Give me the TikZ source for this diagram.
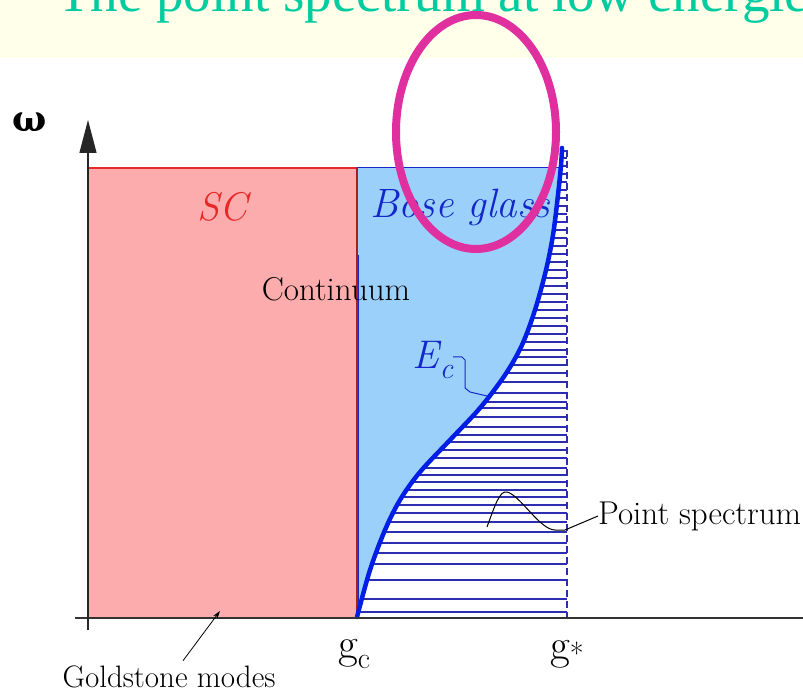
\documentclass[tikz,border=0pt]{standalone}
\usepackage{fontspec}
\newfontfamily\timesf{Liberation Serif}
\newfontfamily\dvserif{DejaVu Serif}
\usetikzlibrary{arrows.meta}
\definecolor{bandyel}{RGB}{255,255,234}
\definecolor{titlecol}{RGB}{0,204,160}
\definecolor{pinkfill}{RGB}{252,172,172}
\definecolor{bluefill}{RGB}{155,208,250}
\definecolor{scred}{RGB}{230,40,40}
\definecolor{edgered}{RGB}{170,30,30}
\definecolor{bgblue}{RGB}{20,40,200}
\definecolor{ecblue}{RGB}{0,30,230}
\definecolor{lineblue}{RGB}{45,45,175}
\definecolor{magentaring}{RGB}{224,48,160}
\begin{document}
\begin{tikzpicture}[x=1pt,y=-1pt,
  lbl/.style={inner sep=0pt, font=\fontsize{33}{36}\selectfont},
  itlbl/.style={inner sep=0pt, font=\fontsize{40}{44}\selectfont\itshape},
  glabel/.style={inner sep=0pt, font=\fontsize{43}{46}\selectfont},
  specline/.style={lineblue, line width=1.4pt},
  leader/.style={line width=1pt}]
\useasboundingbox (0,0) rectangle (803,692);
\clip (0,0) rectangle (803,692);
\fill[white] (0,0) rectangle (803,692);
\fill[bandyel] (0,0) rectangle (803,58);
\node[anchor=base west, inner sep=0pt, text=titlecol, font=\fontsize{55}{60}\selectfont\timesf] (title) at (57,12) {The point spectrum at low energies};
% SC region
\fill[pinkfill] (88,168) rectangle (358,618);
% Bose glass region
\begin{scope}
  \clip (356.5,168) rectangle (600,618);
  \fill[bluefill] plot[smooth,tension=0.55] coordinates {(357,617) (370,570) (385,530) (400,500) (420,472) (450,440) (480,408) (505,375) (522,345) (535,310) (546,270) (553,235) (558,195) (561,165) (562,148)} -- (356.5,148) -- (356.5,617) -- cycle;
\end{scope}
\draw[scred, line width=1.2pt] (88,168) -- (357,168);
\draw[edgered, line width=1.5pt] (88,408) -- (88,618) -- (357,618);
\draw[edgered, line width=1.4pt] (357,168) -- (357,618);
\draw[bgblue, line width=1pt] (357,168) -- (560,168);
\draw[bgblue, line width=1pt] (358.5,255) -- (358.5,617);
% point spectrum lines
\begin{scope}
  \clip plot[smooth,tension=0.55] coordinates {(357,617) (370,570) (385,530) (400,500) (420,472) (450,440) (480,408) (505,375) (522,345) (535,310) (546,270) (553,235) (558,195) (561,165) (562,148)} -- (575,148) -- (575,618) -- cycle;
  \foreach \yy in {612,599,580,564,553,543,532,522,513,505,497,490,482,475,468,458,450,442,435,427,417,408,402,393,382,373,365,357,350,342,334,326,318,310,302,294,286,278,270,262,254,246,238,230,222,214,206,198,190,182,174,166,158,151}
    \draw[specline] (357,\yy) -- (567,\yy);
\end{scope}
\draw[lineblue, line width=1.3pt, dash pattern=on 7pt off 4pt] (567,150) -- (567,618);
\draw[ecblue, line width=4.5pt, line cap=round] plot[smooth,tension=0.55] coordinates {(357,617) (370,570) (385,530) (400,500) (420,472) (450,440) (480,408) (505,375) (522,345) (535,310) (546,270) (553,235) (558,195) (561,165) (562,148)};
% axes
\draw[black!80, line width=1.3pt] (75,618) -- (803,618);
\draw[black!85, line width=1.3pt, -{Triangle[length=33pt,width=17pt]}] (88,630) -- (88,120);
% labels
\node[inner sep=0pt, font=\fontsize{36}{40}\selectfont\dvserif\bfseries] (omega) at (30,122) {ω};
\node[itlbl, text=scred] (sc) at (222,207) {SC};
\node[itlbl, text=bgblue, font=\fontsize{41}{44}\selectfont\itshape] (bose) at (460,207) {Bose glass};
\node[lbl] (cont) at (336,289) {Continuum};
\node[itlbl, text=bgblue] (ec) at (433,360) {E\raisebox{-0.25em}{\fontsize{30}{32}\selectfont c}};
\node[lbl, anchor=west] (ps) at (598,516) {Point spectrum};
\node[inner sep=0pt, font=\fontsize{31}{34}\selectfont] (gold) at (169,677) {Goldstone modes};
\node[glabel] (gc) at (354,654) {g\raisebox{-0.25em}{\fontsize{30}{32}\selectfont c}};
\node[glabel] (gs) at (567,654) {g\raisebox{-0.12em}{\fontsize{30}{32}\selectfont *}};
% leaders
\coordinate (ecend) at (487,396);
\coordinate (psstart) at (487,527);
\coordinate (goldtip) at (220,611);
\draw[bgblue, leader] (ec.east |- 0,357) -- (462,357) -- (465,360) -- (465,388) -- (470,392) -- (ecend);
\draw[black, leader] (psstart) .. controls (495,505) and (500,490) .. (507,492) .. controls (520,495) and (540,530) .. (555,530) -- (565,530) -- (ps.west);
\draw[black, line width=0.8pt, -{Stealth[length=8pt,width=5pt]}] (gold.north -| 183,0) ++(0,-5) -- (goldtip);
% highlight ring
\draw[magentaring, line width=8pt] (476,132) ellipse [x radius=80pt, y radius=117pt];
\end{tikzpicture}
\end{document}
